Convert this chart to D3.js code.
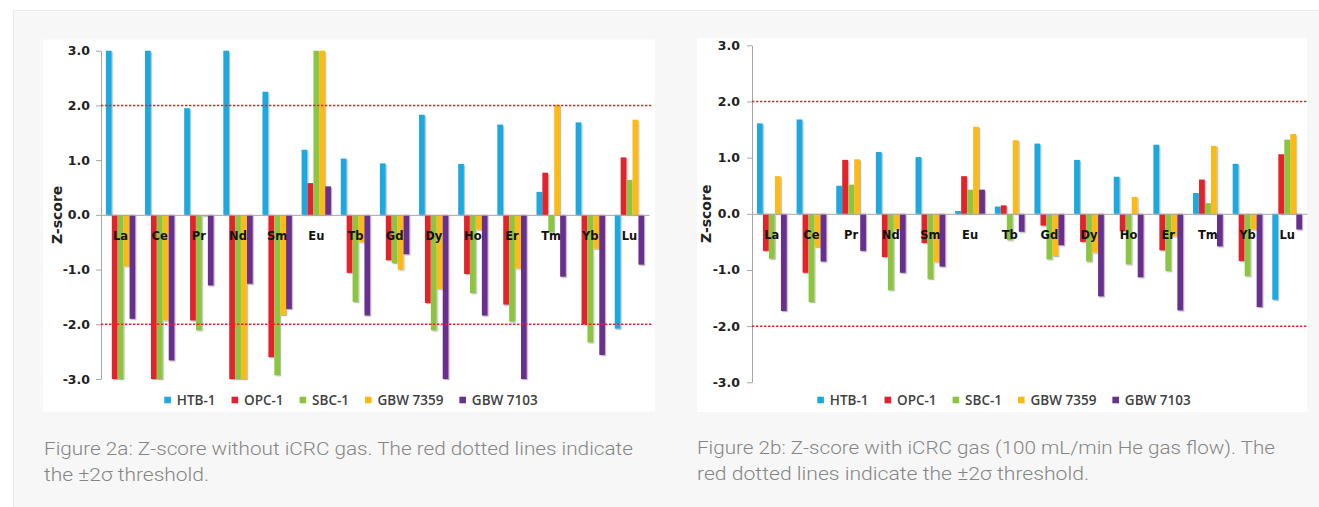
<!DOCTYPE html>
<html>
<head>
<meta charset="utf-8">
<script src="https://cdn.jsdelivr.net/npm/d3@7"></script>
<style>
html, body { margin: 0; padding: 0; background: #fff; }
svg { display: block; }
</style>
</head>
<body>
<svg id="chart" width="1319" height="507"></svg>
<script>
// categories and series
const elements = ["La", "Ce", "Pr", "Nd", "Sm", "Eu", "Tb", "Gd", "Dy", "Ho", "Er", "Tm", "Yb", "Lu"]
const seriesNames = ["HTB-1", "OPC-1", "SBC-1", "GBW 7359", "GBW 7103"]
const yTicks = [3, 2, 1, 0, -1, -2, -3]
const thresholds = [2, -2]

// Figure 2a: without iCRC gas (bars clipped at +/-3)
const noGasHTB  = [3.0, 3.0, 1.95, 3.0, 2.25, 1.19, 1.03, 0.94, 1.83, 0.93, 1.65, 0.42, 1.69, -2.08]
const noGasOPC  = [-3.0, -3.0, -1.93, -3.0, -2.60, 0.58, -1.06, -0.83, -1.61, -1.08, -1.64, 0.77, -2.00, 1.05]
const noGasSBC  = [-3.0, -3.0, -2.11, -3.0, -2.93, 3.0, -1.59, -0.88, -2.11, -1.43, -1.95, -0.32, -2.33, 0.64]
const noGas7359 = [-0.94, -1.93, -0.02, -3.0, -1.83, 3.0, -0.50, -1.00, -1.35, -0.27, -0.98, 2.01, -0.62, 1.74]
const noGas7103 = [-1.90, -2.66, -1.29, -1.26, -1.72, 0.52, -1.84, -0.72, -3.0, -1.84, -3.0, -1.13, -2.56, -0.91]

// Figure 2b: with iCRC gas (100 mL/min He)
const gasHTB  = [1.61, 1.68, 0.50, 1.10, 1.01, 0.05, 0.13, 1.25, 0.96, 0.66, 1.23, 0.37, 0.89, -1.53]
const gasOPC  = [-0.66, -1.05, 0.96, -0.77, -0.52, 0.67, 0.15, -0.21, -0.50, -0.31, -0.65, 0.61, -0.84, 1.06]
const gasSBC  = [-0.80, -1.57, 0.52, -1.36, -1.16, 0.43, -0.47, -0.81, -0.85, -0.90, -1.02, 0.19, -1.11, 1.32]
const gas7359 = [0.67, -0.59, 0.97, -0.28, -0.86, 1.55, 1.31, -0.75, -0.69, 0.30, -0.40, 1.21, -0.28, 1.42]
const gas7103 = [-1.73, -0.85, -0.66, -1.05, -0.94, 0.43, -0.32, -0.56, -1.47, -1.13, -1.72, -0.58, -1.66, -0.28]

const captionA = ["Figure 2a: Z-score without iCRC gas. The red dotted lines indicate", "the \u00b12\u03c3 threshold."]
const captionB = ["Figure 2b: Z-score with iCRC gas (100 mL/min He gas flow). The", "red dotted lines indicate the \u00b12\u03c3 threshold."]

const colors = d3.scaleOrdinal().domain(seriesNames)
    .range(["#1fa8e0", "#e4202a", "#8cc540", "#fdb913", "#6b2f8e"])

const panels = [
    {
        values: [noGasHTB, noGasOPC, noGasSBC, noGas7359, noGas7103],
        caption: captionA,
        box: {x: 43, y: 39.5, w: 612, h: 372},
        x0: 101, x1: 649, yTop: 50.7, yBot: 379,
        tickPad: 6, titleX: 57, lineEnd: 653,
        capX: 44, capW: [589, 165], capY: [455, 481]
    },
    {
        values: [gasHTB, gasOPC, gasSBC, gas7359, gas7103],
        caption: captionB,
        box: {x: 697, y: 38, w: 610, h: 374},
        x0: 752, x1: 1307, yTop: 45.3, yBot: 382.3,
        tickPad: 7, titleX: 706, lineEnd: 1307,
        capX: 697, capW: [578, 392], capY: [454, 480]
    }
]

const svg = d3.select("#chart")

// light grey page panel
svg.append("rect")
    .attr("x", 13.5).attr("y", 10.5)
    .attr("width", 1320).attr("height", 510)
    .attr("fill", "#f7f7f7")
    .attr("stroke", "#ebebeb")

const defs = svg.append("defs")
defs.append("filter")
    .attr("id", "shadow")
    .attr("x", "-50%").attr("y", "-10%").attr("width", "200%").attr("height", "120%")
  .append("feDropShadow")
    .attr("dx", 1.2).attr("dy", 1.2)
    .attr("stdDeviation", 0.7)
    .attr("flood-color", "#000")
    .attr("flood-opacity", 0.28)

for (const p of panels) {
    const g = svg.append("g")

    g.append("rect")
        .attr("x", p.box.x).attr("y", p.box.y)
        .attr("width", p.box.w).attr("height", p.box.h)
        .attr("fill", "#fff")

    const x = d3.scaleBand().domain(elements).range([p.x0, p.x1]).paddingInner(0.25).paddingOuter(0.125)
    const xs = d3.scaleBand().domain(seriesNames).range([0, x.bandwidth()]).paddingInner(0.04)
    const y = d3.scaleLinear().domain([-3, 3]).range([p.yBot, p.yTop])

    // bars
    const rows = []
    p.values.forEach((vals, si) => {
        vals.forEach((v, ci) => rows.push({cat: elements[ci], series: seriesNames[si], value: v}))
    })
    g.append("g")
        .attr("filter", "url(#shadow)")
        .selectAll("rect")
        .data(rows)
        .join("rect")
            .attr("x", d => x(d.cat) + xs(d.series))
            .attr("width", xs.bandwidth())
            .attr("y", d => Math.min(y(d.value), y(0)))
            .attr("height", d => Math.abs(y(d.value) - y(0)))
            .attr("fill", d => colors(d.series))

    // y axis
    const yAxis = g.append("g")
        .attr("transform", "translate(" + p.x0 + ",0)")
        .call(d3.axisLeft(y).tickValues(yTicks).tickSize(5).tickSizeOuter(0).tickPadding(p.tickPad)
            .tickFormat(d => d.toFixed(1)))
    yAxis.select(".domain").attr("stroke", "#a6a6a6")
    yAxis.selectAll(".tick line").attr("stroke", "#a6a6a6")
    yAxis.selectAll("text")
        .attr("font-family", "DejaVu Sans")
        .attr("font-weight", "bold")
        .attr("font-size", 12.5)
        .attr("fill", "#222")

    // x axis along zero
    const xAxis = g.append("g")
        .attr("transform", "translate(0," + y(0) + ")")
        .call(d3.axisBottom(x).tickSize(0).tickSizeOuter(0).tickPadding(17))
    xAxis.select(".domain").attr("stroke", "#a6a6a6")
    xAxis.selectAll("text")
        .attr("font-family", "DejaVu Sans")
        .attr("font-weight", "bold")
        .attr("font-size", 11.5)
        .attr("fill", "#111")

    // +/-2 sigma threshold lines
    g.selectAll(".thr")
        .data(thresholds)
        .join("line")
            .attr("class", "thr")
            .attr("x1", p.x0).attr("x2", p.lineEnd)
            .attr("y1", d => y(d)).attr("y2", d => y(d))
            .attr("stroke", "#e8222b")
            .attr("stroke-width", 1.5)
            .attr("stroke-dasharray", "2.4,1.6")

    // axis title
    g.append("text")
        .attr("transform", "translate(" + p.titleX + "," + y(0) + ") rotate(-90)")
        .attr("text-anchor", "middle")
        .attr("dy", "0.35em")
        .attr("font-family", "DejaVu Sans")
        .attr("font-weight", "bold")
        .attr("font-size", 14)
        .attr("fill", "#222")
        .text("Z-score")

    // legend, laid out from measured text widths and centred in the white box
    const legend = g.append("g")
    let cx = 0
    seriesNames.forEach(name => {
        const item = legend.append("g").attr("transform", "translate(" + cx + ",0)")
        item.append("rect")
            .attr("x", 0).attr("y", -3.3)
            .attr("width", 6.6).attr("height", 6.6)
            .attr("fill", colors(name))
        const t = item.append("text")
            .attr("x", 12.5)
            .attr("dy", "0.36em")
            .attr("font-family", "Open Sans")
            .attr("font-weight", 600)
            .attr("font-size", 13.5)
            .attr("fill", "#404040")
            .text(name)
        cx += 12.5 + t.node().getComputedTextLength() + 16
    })
    const legendW = cx - 16
    legend.attr("transform", "translate(" + (p.box.x + p.box.w / 2 + 2 - legendW / 2) + ",400)")

    // caption below the chart
    p.caption.forEach((line, i) => {
        svg.append("text")
            .attr("x", p.capX)
            .attr("y", p.capY[i])
            .attr("font-family", "Roboto")
            .attr("font-weight", 300)
            .attr("font-size", 18)
            .attr("fill", "#858585")
            .attr("textLength", p.capW[i])
            .attr("lengthAdjust", "spacingAndGlyphs")
            .text(line)
    })
}
</script>
</body>
</html>
